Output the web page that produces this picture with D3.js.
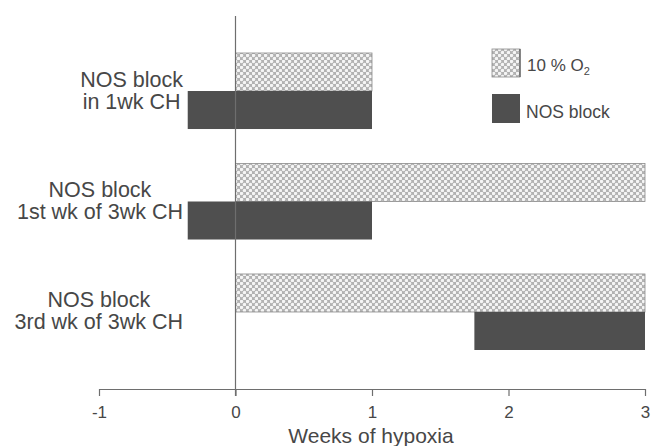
<!DOCTYPE html>
<html>
<head>
<meta charset="utf-8">
<script src="https://cdn.jsdelivr.net/npm/d3@7"></script>
<style>
  html, body { margin: 0; padding: 0; background: #fff; }
  svg { display: block; font-family: "Liberation Sans", Arial, Helvetica, sans-serif; }
</style>
</head>
<body>
<svg id="chart" width="651" height="446"></svg>
<script>
// Protocol groups (two-line labels)
const groups = [
  ["NOS block", "in 1wk CH"],
  ["NOS block", "1st wk of 3wk CH"],
  ["NOS block", "3rd wk of 3wk CH"]
];
// Hypoxia exposure period (start, end) in weeks
const hypoxiaStart = [0, 0, 0];
const hypoxiaEnd = [1, 3, 3];
// NOS block period (start, end) in weeks
const nosStart = [-0.35, -0.35, 1.75];
const nosEnd = [1, 1, 3];
const xTicks = [-1, 0, 1, 2, 3];
const seriesNames = ["10 % O", "NOS block"];

const svg = d3.select("#chart");
const ink = "#474747";
const axisInk = "#6e6e6e";
const darkFill = "#4f4f4f";

// Dotted cross-hatch fill for the hypoxia bars
const defs = svg.append("defs");
const pat = defs.append("pattern")
  .attr("id", "hatch")
  .attr("patternUnits", "userSpaceOnUse")
  .attr("width", 6).attr("height", 6);
pat.append("rect").attr("width", 6).attr("height", 6).attr("fill", "#b2b2b2");
[[1.5, 1.5], [4.5, 4.5]].forEach(([cx, cy]) =>
  pat.append("circle").attr("cx", cx).attr("cy", cy).attr("r", 1.75).attr("fill", "#f5f5f5"));

const x = d3.scaleLinear().domain([-1, 3]).range([99, 645]);
const keys = groups.map((g, i) => i);
const y = d3.scaleBand().domain(keys).range([53, 350]).paddingInner(0.312).paddingOuter(0);
const sub = d3.scaleBand().domain(["hyp", "nos"]).range([0, y.bandwidth()]);

// Hypoxia bars
svg.append("g").selectAll("rect")
  .data(keys)
  .join("rect")
  .attr("x", i => x(hypoxiaStart[i]))
  .attr("y", i => y(i) + sub("hyp"))
  .attr("width", i => x(hypoxiaEnd[i]) - x(hypoxiaStart[i]))
  .attr("height", sub.bandwidth())
  .attr("fill", "url(#hatch)")
  .attr("stroke", "#8a8a8a")
  .attr("stroke-width", 0.8);

// NOS block bars
svg.append("g").selectAll("rect")
  .data(keys)
  .join("rect")
  .attr("x", i => x(nosStart[i]))
  .attr("y", i => y(i) + sub("nos"))
  .attr("width", i => x(nosEnd[i]) - x(nosStart[i]))
  .attr("height", sub.bandwidth())
  .attr("fill", darkFill);

// Zero reference line
svg.append("line")
  .attr("x1", x(0)).attr("x2", x(0))
  .attr("y1", 16).attr("y2", 396)
  .attr("stroke", axisInk).attr("stroke-width", 1.2);

// X axis
const axisY = 389;
const ax = svg.append("g")
  .attr("transform", `translate(0,${axisY})`)
  .call(d3.axisBottom(x).tickValues(xTicks).tickSize(7).tickPadding(10).tickSizeOuter(0)
    .tickFormat(d => String(d)));
ax.select(".domain").attr("stroke", axisInk).attr("stroke-width", 1.2);
ax.selectAll(".tick line").attr("stroke", axisInk).attr("stroke-width", 1.2);
ax.selectAll(".tick text").attr("fill", ink).attr("font-size", 17)
  .attr("font-family", "'Liberation Sans', Arial, sans-serif");

svg.append("text")
  .attr("x", 371).attr("y", 443)
  .attr("text-anchor", "middle")
  .attr("font-size", 21)
  .attr("fill", ink)
  .text("Weeks of hypoxia");

// Category labels: each two-line block centred on itself, right edge aligned
const labelRight = 183;
keys.forEach(i => {
  const cy = y(i) + y.bandwidth() / 2;
  const t = svg.append("text")
    .attr("font-size", 21.5)
    .attr("fill", ink)
    .attr("text-anchor", "middle");
  const spans = groups[i].map((line, k) =>
    t.append("tspan").attr("y", cy + (k === 0 ? -4.5 : 17.5)).text(line));
  const maxW = d3.max(spans, s => s.node().getComputedTextLength());
  spans.forEach(s => s.attr("x", labelRight - maxW / 2));
});

// Legend
const leg = svg.append("g");
leg.append("rect").attr("x", 492).attr("y", 49).attr("width", 28).attr("height", 28)
  .attr("fill", "url(#hatch)").attr("stroke", "#8a8a8a").attr("stroke-width", 0.8);
leg.append("line").attr("x1", 520).attr("x2", 520).attr("y1", 49).attr("y2", 77)
  .attr("stroke", "#555").attr("stroke-width", 1.2);
const t1 = leg.append("text").attr("x", 527).attr("y", 71)
  .attr("font-size", 17).attr("fill", ink);
t1.append("tspan").text(seriesNames[0]);
t1.append("tspan").attr("font-size", 11).attr("dy", 4).text("2");
leg.append("rect").attr("x", 492).attr("y", 94).attr("width", 28).attr("height", 29)
  .attr("fill", darkFill);
leg.append("text").attr("x", 526).attr("y", 118)
  .attr("font-size", 17.5).attr("fill", ink).text(seriesNames[1]);
</script>
</body>
</html>
